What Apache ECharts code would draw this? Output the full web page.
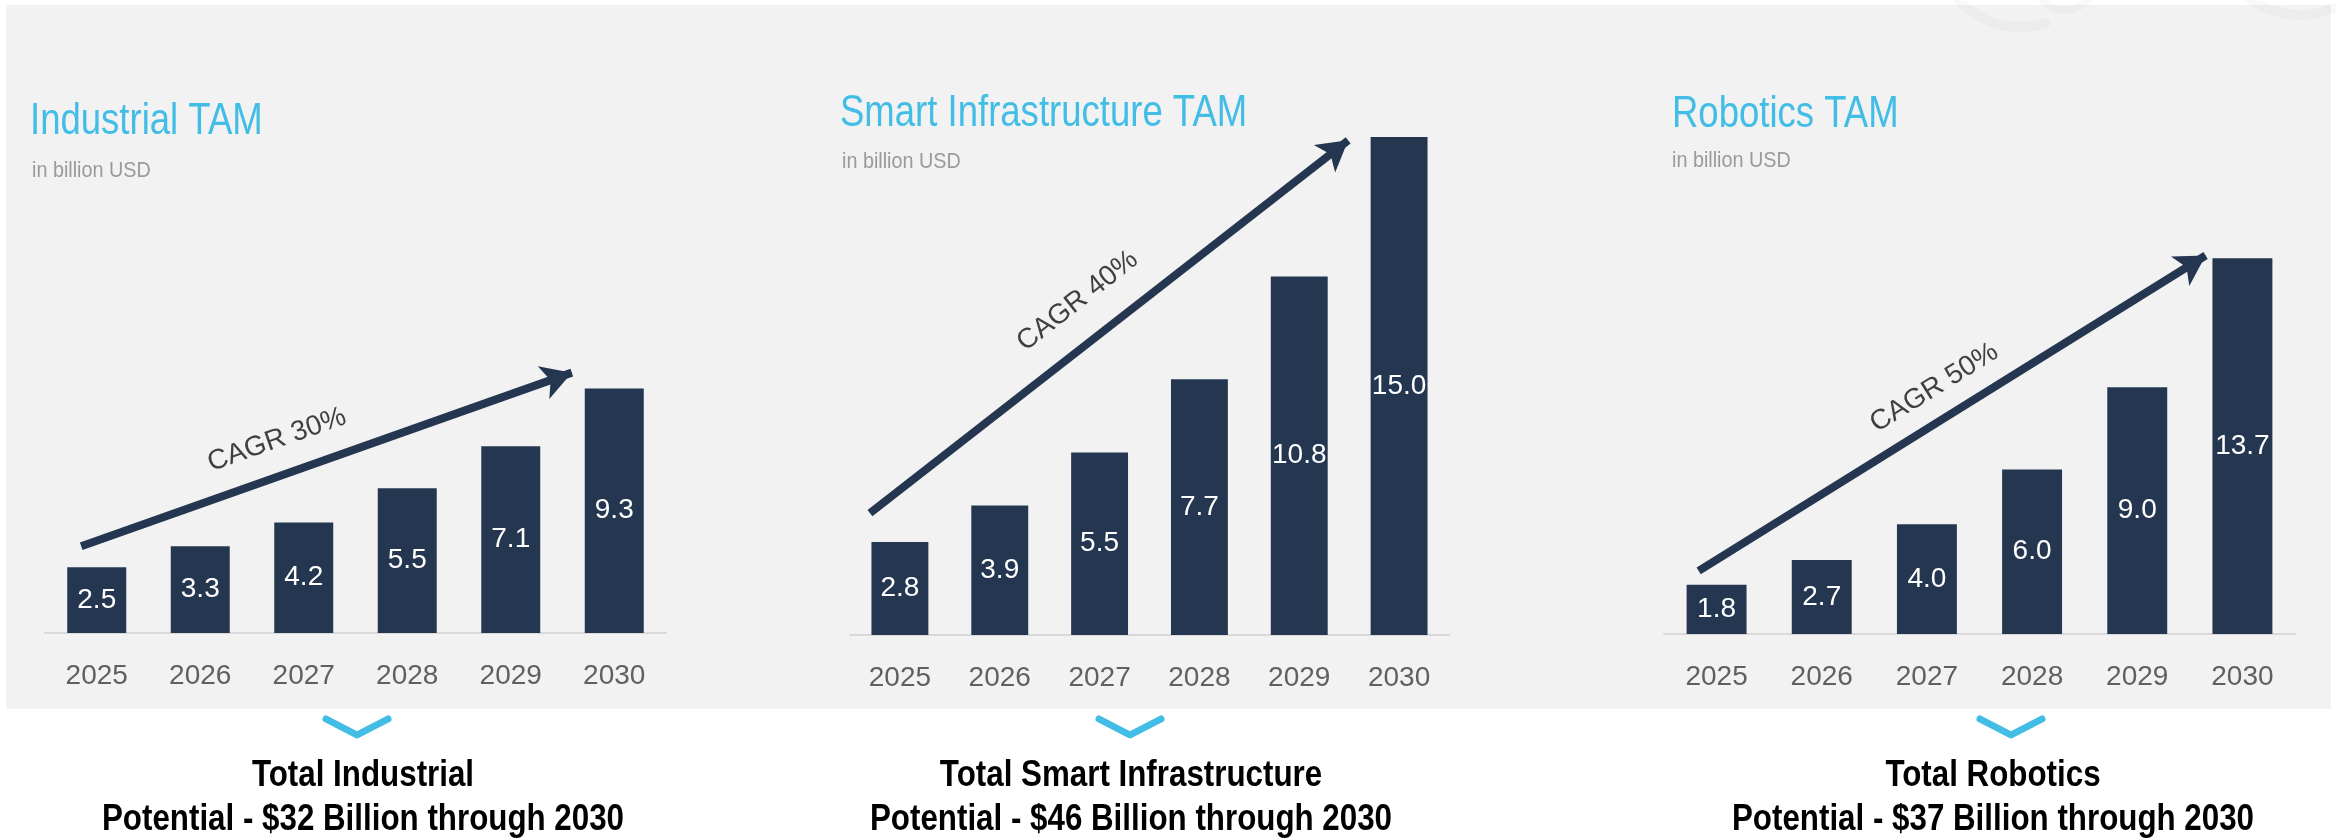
<!DOCTYPE html>
<html>
<head>
<meta charset="utf-8">
<script src="https://cdn.jsdelivr.net/npm/echarts@6/dist/echarts.min.js"></script>
<style>
html,body{margin:0;padding:0;background:#fff;}
#main{width:2336px;height:838px;}
</style>
</head>
<body>
<div id="main"></div>
<script>
// data
var years = ['2025', '2026', '2027', '2028', '2029', '2030'];
var industrial = [2.5, 3.3, 4.2, 5.5, 7.1, 9.3];
var smartInfra = [2.8, 3.9, 5.5, 7.7, 10.8, 15.0];
var robotics = [1.8, 2.7, 4.0, 6.0, 9.0, 13.7];
var titles = ['Industrial TAM', 'Smart Infrastructure TAM', 'Robotics TAM'];
var unitText = 'in billion USD';
var cagrText = ['CAGR 30%', 'CAGR 40%', 'CAGR 50%'];
var totalText = [
    'Total Industrial\nPotential - $32 Billion through 2030',
    'Total Smart Infrastructure\nPotential - $46 Billion through 2030',
    'Total Robotics\nPotential - $37 Billion through 2030'
];
// CAGR arrows, in data space (x = year index, y = value)
var arrowFrom = [[-0.15, 3.3], [-0.30, 3.67], [-0.17, 2.3]];
var arrowTo = [[4.59, 9.9], [4.49, 14.9], [4.65, 13.8]];
var cagrAt = [[1.74, 7.34], [1.78, 10.06], [2.07, 8.98]];
var cagrAngle = [19.4, 38, 31.8];

var FONT = "'Liberation Sans', Roboto, sans-serif";
var NAVY = '#253750';
var BLUE = '#41bde6';

var panels = [
    {data: industrial, left: 45, width: 621, top: 370, height: 263, max: 10,
     titleX: 30, titleY: 121.5, subX: 32, subY: 171, mid: 357, textMid: 363},
    {data: smartInfra, left: 850, width: 599, top: 137, height: 498, max: 15,
     titleX: 840, titleY: 113.5, subX: 842, subY: 162, mid: 1130, textMid: 1131},
    {data: robotics, left: 1664, width: 631, top: 250, height: 384, max: 14,
     titleX: 1672, titleY: 115, subX: 1672, subY: 160.5, mid: 2011, textMid: 1993}
];

var myChart = echarts.init(document.getElementById('main'));

var grid = [], xAxis = [], yAxis = [], series = [], graphic = [];

// grey panel and faint arcs behind
graphic.push({type: 'rect', z: -10, shape: {x: 6, y: 5, width: 2325, height: 704}, style: {fill: '#f2f2f2'}});
graphic.push({type: 'arc', z: -9, shape: {cx: 2020, cy: -55, r: 82, startAngle: 72 * Math.PI / 180, endAngle: 142 * Math.PI / 180},
    style: {stroke: 'rgba(0,0,0,0.025)', lineWidth: 10, fill: null, lineCap: 'round'}});
graphic.push({type: 'arc', z: -9, shape: {cx: 2065, cy: -20, r: 30, startAngle: 40 * Math.PI / 180, endAngle: 140 * Math.PI / 180},
    style: {stroke: 'rgba(0,0,0,0.025)', lineWidth: 8, fill: null, lineCap: 'round'}});
graphic.push({type: 'arc', z: -9, shape: {cx: 2300, cy: -70, r: 85, startAngle: 67 * Math.PI / 180, endAngle: 135 * Math.PI / 180},
    style: {stroke: 'rgba(0,0,0,0.025)', lineWidth: 10, fill: null, lineCap: 'round'}});

panels.forEach(function (p, i) {
    grid.push({left: p.left, width: p.width, top: p.top, height: p.height});
    xAxis.push({
        type: 'category', gridIndex: i, data: years,
        axisLine: {lineStyle: {color: '#d9d9d9', width: 2}},
        axisTick: {length: 10, lineStyle: {color: '#d9d9d9', width: 2}},
        axisLabel: {margin: 29, fontSize: 28, color: '#606060', fontFamily: FONT}
    });
    // hidden axis used to place the CAGR arrow and text
    xAxis.push({type: 'value', gridIndex: i, min: -0.5, max: 5.5, show: false});
    yAxis.push({type: 'value', gridIndex: i, min: 0, max: p.max, show: false, splitLine: {show: false}});

    series.push({
        type: 'bar', xAxisIndex: i * 2, yAxisIndex: i, data: p.data, barWidth: '57%',
        itemStyle: {color: NAVY},
        label: {
            show: true, position: 'inside', color: '#fff', fontSize: 28, fontFamily: FONT,
            formatter: function (d) { return d.value.toFixed(1); }
        },
        silent: true
    });
    series.push({
        type: 'scatter', xAxisIndex: i * 2 + 1, yAxisIndex: i, data: [cagrAt[i]],
        symbolSize: 1, itemStyle: {color: 'rgba(0,0,0,0)'}, silent: true,
        label: {
            show: true, position: 'inside', formatter: cagrText[i], rotate: cagrAngle[i],
            fontSize: 28, color: '#111', fontFamily: FONT
        },
        markLine: {
            silent: true, symbol: ['none', 'arrow'], symbolSize: [26, 30],
            lineStyle: {color: NAVY, width: 8, type: 'solid'},
            label: {show: false},
            data: [[{coord: arrowFrom[i]}, {coord: arrowTo[i]}]]
        }
    });

    // titles (narrowed to match the condensed face of the original)
    graphic.push({
        type: 'text', z: 10, x: p.titleX, y: p.titleY, scaleX: 0.83,
        style: {text: titles[i], x: 0, y: 0, textVerticalAlign: 'middle', font: '44px ' + FONT, fill: BLUE}
    });
    graphic.push({
        type: 'text', z: 10, x: p.subX, y: p.subY, scaleX: 0.9,
        style: {text: unitText, x: 0, y: 0, textVerticalAlign: 'middle', font: '22px ' + FONT, fill: '#9a9a9a'}
    });

    graphic.push({
        type: 'polyline', z: 10,
        shape: {points: [[p.mid - 31, 719], [p.mid, 735], [p.mid + 31, 719]]},
        style: {stroke: BLUE, lineWidth: 7, fill: null, lineCap: 'round', lineJoin: 'round'}
    });
    graphic.push({
        type: 'text', z: 10, x: p.textMid, y: 798, scaleX: 0.87,
        style: {
            text: totalText[i], x: 0, y: 0, textAlign: 'center', textVerticalAlign: 'middle',
            font: 'bold 36px ' + FONT, lineHeight: 44, fill: '#000'
        }
    });
});

var option = {
    backgroundColor: '#fff',
    animation: false,
    grid: grid,
    xAxis: xAxis,
    yAxis: yAxis,
    series: series,
    graphic: graphic
};
myChart.setOption(option);
</script>
</body>
</html>
